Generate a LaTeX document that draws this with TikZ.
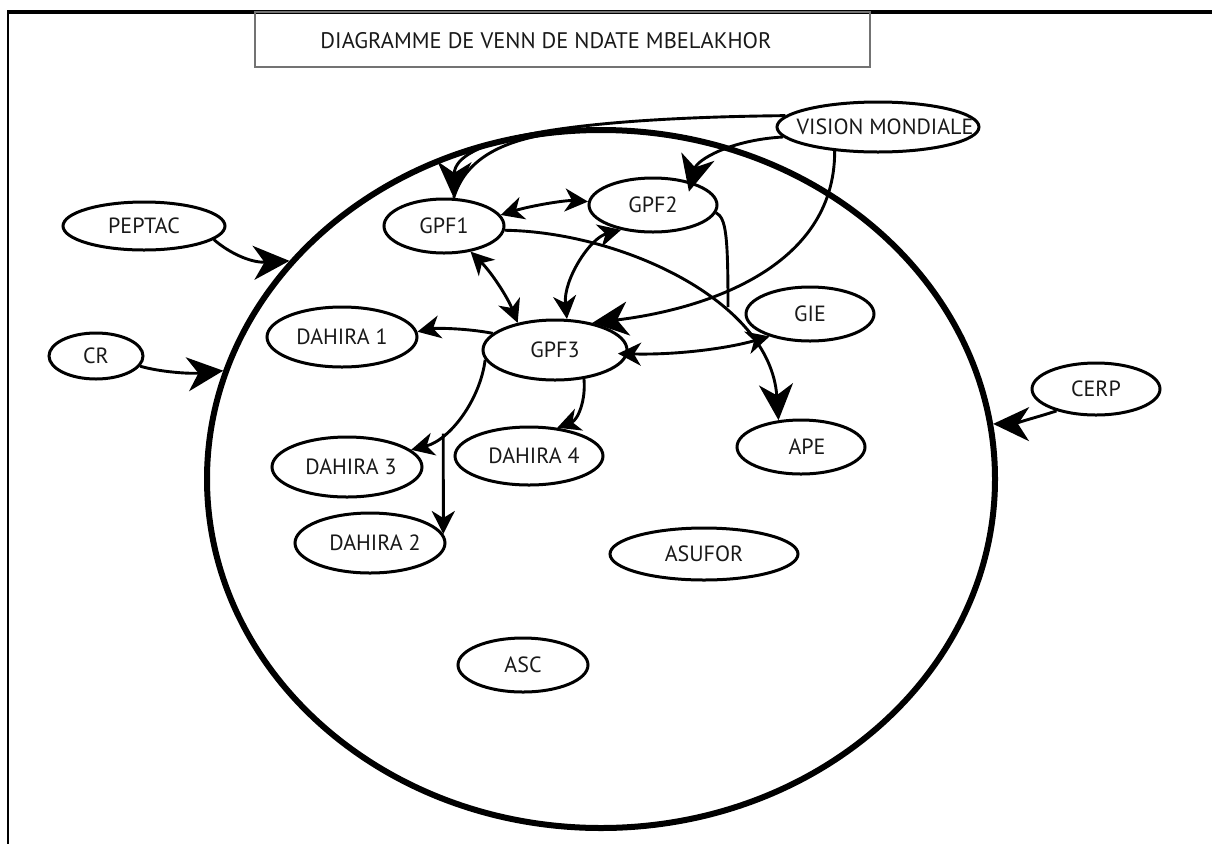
\documentclass[tikz,border=0pt]{standalone}
\usepackage{fontspec}
\setmainfont{PT Sans}
\usetikzlibrary{shapes.geometric,arrows.meta}
\newcommand\ntxt[1]{\makebox[0pt]{#1}}
\begin{document}
\begin{tikzpicture}[x=1pt,y=-1pt,
  ell/.style={draw=black, ellipse, line width=3pt, inner sep=0pt,
    font=\fontsize{22}{26}\selectfont, text=black!90},
  conn/.style={line width=2.9pt, draw=black},
  bigtip/.style={-{Stealth[length=36pt,width=34pt,inset=11pt]}},
  smalltip/.style={-{Stealth[length=23pt,width=23pt,inset=7pt]}},
  smalltwo/.style={{Stealth[length=23pt,width=23pt,inset=7pt]}-{Stealth[length=23pt,width=23pt,inset=7pt]}}
]
\useasboundingbox (0,0) rectangle (1212,844);
\fill[white] (0,0) rectangle (1212,844);

% frame
\draw[line width=3.2pt] (7,12) -- (1212,12);
\draw[line width=2.6pt] (8,12) -- (8,844);

% title
\node[draw=black!55, line width=1.6pt, minimum width=615pt, minimum height=55pt, inner sep=0pt] (titlebox) at (562.5,39.5) {};
\node[font=\fontsize{22.5}{26}\selectfont, text=black!90, inner sep=0pt] (titletext) at (546,41) {DIAGRAMME DE VENN DE NDATE MBELAKHOR};

% big circle
\node[draw=black, ellipse, line width=6pt, minimum width=788pt, minimum height=698pt, inner sep=0pt] (venn) at (601,479) {};

% nodes
\node[ell, minimum width=202pt, minimum height=50pt] (vm) at (878,127) {\ntxt{\hspace{14pt}VISION MONDIALE}};
\node[ell, minimum width=120pt, minimum height=54pt] (gpf1) at (444,226) {\ntxt{GPF1}};
\node[ell, minimum width=128pt, minimum height=54pt] (gpf2) at (653,205) {\ntxt{GPF2}};
\node[ell, minimum width=144pt, minimum height=60pt] (gpf3) at (555,350) {\ntxt{GPF3}};
\node[ell, minimum width=128pt, minimum height=54pt] (gie) at (810,314) {\ntxt{GIE}};
\node[ell, minimum width=150pt, minimum height=60pt] (d1) at (342,337) {\ntxt{DAHIRA 1}};
\node[ell, minimum width=150pt, minimum height=60pt] (d3) at (347,467) {\ntxt{\hspace{8pt}DAHIRA 3}};
\node[ell, minimum width=150pt, minimum height=60pt] (d2) at (370,543) {\ntxt{\hspace{10pt}DAHIRA 2}};
\node[ell, minimum width=148pt, minimum height=58pt] (d4) at (529,456) {\ntxt{\hspace{10pt}DAHIRA 4}};
\node[ell, minimum width=128pt, minimum height=54pt] (ape) at (801,447) {\ntxt{\hspace{12pt}APE}};
\node[ell, minimum width=128pt, minimum height=52pt] (cerp) at (1096,389) {\ntxt{CERP}};
\node[ell, minimum width=188pt, minimum height=52pt] (asufor) at (704,554) {\ntxt{ASUFOR}};
\node[ell, minimum width=130pt, minimum height=54pt] (asc) at (523,665) {\ntxt{ASC}};
\node[ell, minimum width=162pt, minimum height=48pt] (peptac) at (144,226) {\ntxt{PEPTAC}};
\node[ell, minimum width=94pt, minimum height=46pt] (cr) at (96,356) {\ntxt{CR}};

\coordinate (s1) at (548,134);
\coordinate (j1) at (728,307);

% connectors from VISION MONDIALE
\draw[conn, bigtip] (vm.173) .. controls (560,118) and (455,140) .. (gpf1.71);
\draw[conn] (s1) .. controls (500,142) and (465,160) .. (gpf1.71);
\draw[conn, bigtip, shorten >=-10pt] (vm.186) .. controls (730,140) and (697,160) .. (gpf2.31);
\draw[conn, bigtip] (vm.209) .. controls (835,270) and (700,310) .. (gpf3.36);

% GPF links
\draw[conn, smalltwo] (gpf1.11) .. controls (530,206) and (565,200) .. (gpf2.177);
\draw[conn, smalltwo] (gpf1.-44) .. controls (491,272) and (507,296) .. (gpf3.144);
\draw[conn, smalltwo] (gpf2.218) .. controls (590,238) and (563,280) .. (gpf3.69);
\draw[conn] (gpf2.-7) .. controls (726,218) and (728,235) .. (j1);
\draw[conn, bigtip] (gpf1.-4) .. controls (620,232) and (770,300) .. (ape.130);
\draw[conn, smalltwo, shorten <=-10pt] (gpf3.-3) .. controls (675,355) and (725,349) .. (gie.209);

% GPF3 to DAHIRAs
\draw[conn, smalltip] (gpf3.165) .. controls (465,328) and (435,328) .. (d1.4);
\draw[conn, smalltip] (gpf3.188) .. controls (480,400) and (450,440) .. coordinate[pos=0.7] (j2) (d3.15);
\draw[conn, smalltip] (j2) -- (d2.7);
\draw[conn, smalltip] (gpf3.-45) .. controls (586,400) and (578,420) .. (d4.45);

% outside actors
\draw[conn, bigtip] (peptac.-11) .. controls (228,252) and (250,263) .. (venn.145);
\draw[conn, bigtip] (cr.-13) .. controls (160,372) and (190,374) .. (venn.164);
\draw[conn, bigtip] (cerp.209) .. controls (1035,418) and (1010,424) .. (venn.8);
\end{tikzpicture}
\end{document}
